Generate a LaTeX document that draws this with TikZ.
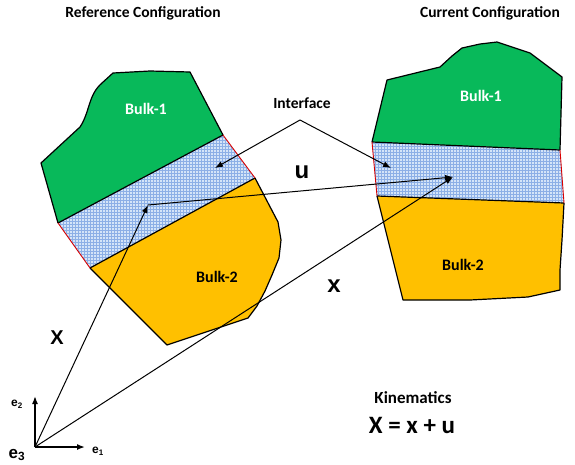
\documentclass[tikz,border=0pt]{standalone}
\usepackage{fontspec}
\setmainfont{Carlito}
\newfontfamily\arialfont{Liberation Sans}
\usetikzlibrary{patterns,arrows.meta}
\definecolor{bulkgreen}{RGB}{8,185,90}
\definecolor{bulkorange}{RGB}{255,192,0}
\definecolor{ifblue}{RGB}{212,228,248}
\definecolor{gridblue}{RGB}{140,175,230}

\begin{document}
\begin{tikzpicture}[x=1pt,y=-1pt,>={Latex[length=8pt,width=6pt]},line join=round,
  body/.style={draw=black,line width=1.2pt},
  redge/.style={draw=red!85!black,line width=0.9pt},
  iface/.style={preaction={fill=ifblue},pattern=grid,pattern color=gridblue},
  vec/.style={->,line width=1pt},
  lbl/.style={font=\bfseries\fontsize{15.5}{18}\selectfont},
  bulk/.style={font=\bfseries\fontsize{16}{19}\selectfont},
  sym/.style={font=\arialfont\bfseries\fontsize{#1}{#1}\selectfont}]
  \useasboundingbox (0,0) rectangle (575,464);

% Reference configuration
  \fill[bulkgreen] (58,223) -- (41,163) -- (80,127) .. controls (90,112) and (88,95) .. (102,83)
    -- (113,73) -- (150,71) -- (190,72) -- (223,135) -- cycle;
  \draw[body] (223,135) -- (190,72) -- (150,71) -- (113,73) -- (102,83)
    .. controls (88,95) and (90,112) .. (80,127) -- (41,163) -- (58,223);
  \path[iface] (58,223) -- (223,135) -- (255,178) -- (90,268) -- cycle;
  \fill[bulkorange] (90,268) -- (255,178) -- (278,222) -- (281,240) -- (279,258) -- (272,275)
    -- (265,291) -- (257,306) -- (248,318) -- (167,345) -- cycle;
  \draw[body] (255,178) -- (278,222) -- (281,240) -- (279,258) -- (272,275)
    -- (265,291) -- (257,306) -- (248,318) -- (167,345) -- (90,268);
  \draw[body] (58,223) -- (223,135) (90,268) -- (255,178);
  \draw[redge] (223,135) -- (255,178) (58,223) -- (90,268);

% Current configuration
  \fill[bulkgreen] (372,142) -- (387,80) -- (440,67) -- (452,56) -- (462,48) -- (480,44)
    -- (497,42) -- (530,53) -- (562,77) -- (560,150) -- cycle;
  \draw[body] (372,142) -- (387,80) -- (440,67) -- (452,56) -- (462,48) -- (480,44)
    -- (497,42) -- (530,53) -- (562,77) -- (560,150);
  \path[iface] (372,142) -- (560,150) -- (564,203) -- (377,196) -- cycle;
  \fill[bulkorange] (377,196) -- (564,203) -- (562,240) -- (560,270) -- (560,290)
    -- (528,297) -- (470,300) -- (403,300) -- cycle;
  \draw[body] (564,203) -- (562,240) -- (560,270) -- (560,290)
    -- (528,297) -- (470,300) -- (403,300) -- (377,196);
  \draw[body] (372,142) -- (560,150) (377,196) -- (564,203);
  \draw[redge] (372,142) -- (377,196) (560,150) -- (564,203);

% Labels
  \node[lbl] (refcfg) at (143,13) {Reference Configuration};
  \node[lbl] (curcfg) at (490,13) {Current Configuration};
  \node[bulk,white] (bulkAl) at (146,109) {Bulk-1};
  \node[bulk] (bulkBl) at (217,277) {Bulk-2};
  \node[bulk,white] (bulkAr) at (481,96) {Bulk-1};
  \node[bulk] (bulkBr) at (463,265) {Bulk-2};
  \node[lbl] (iflbl) at (302,103) {Interface};
  \node[font=\bfseries\fontsize{17}{20}\selectfont] (kin) at (413,398) {Kinematics};
  \node[font=\bfseries\fontsize{25}{28}\selectfont] (kineq) at (412,425) {X = x + u};

% Interface callout
  \coordinate (apex) at (300,120);
  \coordinate (ifL) at (215,168);
  \coordinate (ifR) at (391,168);
  \draw[vec] (apex) -- (ifL);
  \draw[vec] (apex) -- (ifR);

% Position vectors
  \coordinate (O) at (35,447);
  \coordinate (P) at (148,205);
  \coordinate (Q) at (453,177);
  \coordinate (E1) at (85,447);
  \coordinate (E2) at (35,396);
  \draw[vec] (O) -- (P);
  \draw[vec] (O) -- (Q);
  \draw[vec] (P) -- (Q);
  \draw[->,line width=1.5pt] (O) -- (E1);
  \draw[->,line width=1.5pt] (O) -- (E2);
  \node[sym=24] (ulbl) at (302,172) {u};
  \node[sym=24] (xlbl) at (334,286) {x};
  \node[sym=20] (Xlbl) at (57,338) {X};
  \node[sym=12] (e1lbl) at (98,451) {e\textsubscript{1}};
  \node[sym=12] (e2lbl) at (17,404) {e\textsubscript{2}};
  \node[sym=17] (e3lbl) at (17,455) {e\textsubscript{3}};
\end{tikzpicture}
\end{document}
